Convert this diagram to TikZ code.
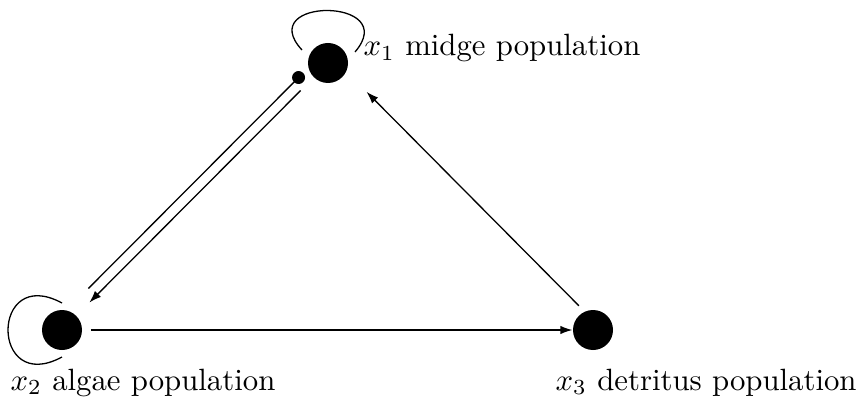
\documentclass[tikz,border=0pt]{standalone}
\usepackage{amsmath}
\usetikzlibrary{arrows.meta}
\tikzset{species/.style={circle, fill=black, inner sep=0pt, minimum size=13pt}}
\tikzset{poplabel/.style={anchor=base west, inner sep=0pt}}

\begin{document}
\begin{tikzpicture}[x=0.325pt, y=-0.325pt, line width=0.42pt,
    >={Latex[length=3.9pt, width=2.75pt]}]

  \useasboundingbox (0,0) rectangle (862,418);

  % Populations.
  \node[species] (x1) at (328,63) {};
  \node[species] (x2) at (62,330) {};
  \node[species] (x3) at (593,330) {};

  % Labels.
  \node[poplabel] (l1) at (363,56)  {$x_1$ midge population};
  \node[poplabel] (l2) at (10,390)  {$x_2$ algae population};
  \node[poplabel] (l3) at (555,390) {$x_3$ detritus population};

  % Self-loops.
  \draw ([shift={(-26,-13)}]x1.center)
    .. controls ([shift={(-75,-66)}]x1.center) and ([shift={(74,-66)}]x1.center)
    .. ([shift={(27,-11)}]x1.center);
  \draw ([shift={(0,-27)}]x2.center)
    .. controls ([shift={(-72,-66)}]x2.center) and ([shift={(-72,66)}]x2.center)
    .. ([shift={(0,27)}]x2.center);

  % Interactions.
  \draw[->, shorten <=2.65pt] (x2) -- (x3);
  \draw[->, shorten <=6.5pt, shorten >=17.8pt]
    ([shift={(0,-10)}]x3.center) -- ([shift={(0,-10)}]x1.center);
  \draw[->, shorten <=5.9pt, shorten >=5.9pt] (x1) -- (x2);
  \draw[-{Circle[length=4.2pt]}, shorten <=15.6pt, shorten >=8pt]
    ([shift={(-7.5,-7.5)}]x2.center) -- ([shift={(-7.5,-7.5)}]x1.center);

\end{tikzpicture}
\end{document}
